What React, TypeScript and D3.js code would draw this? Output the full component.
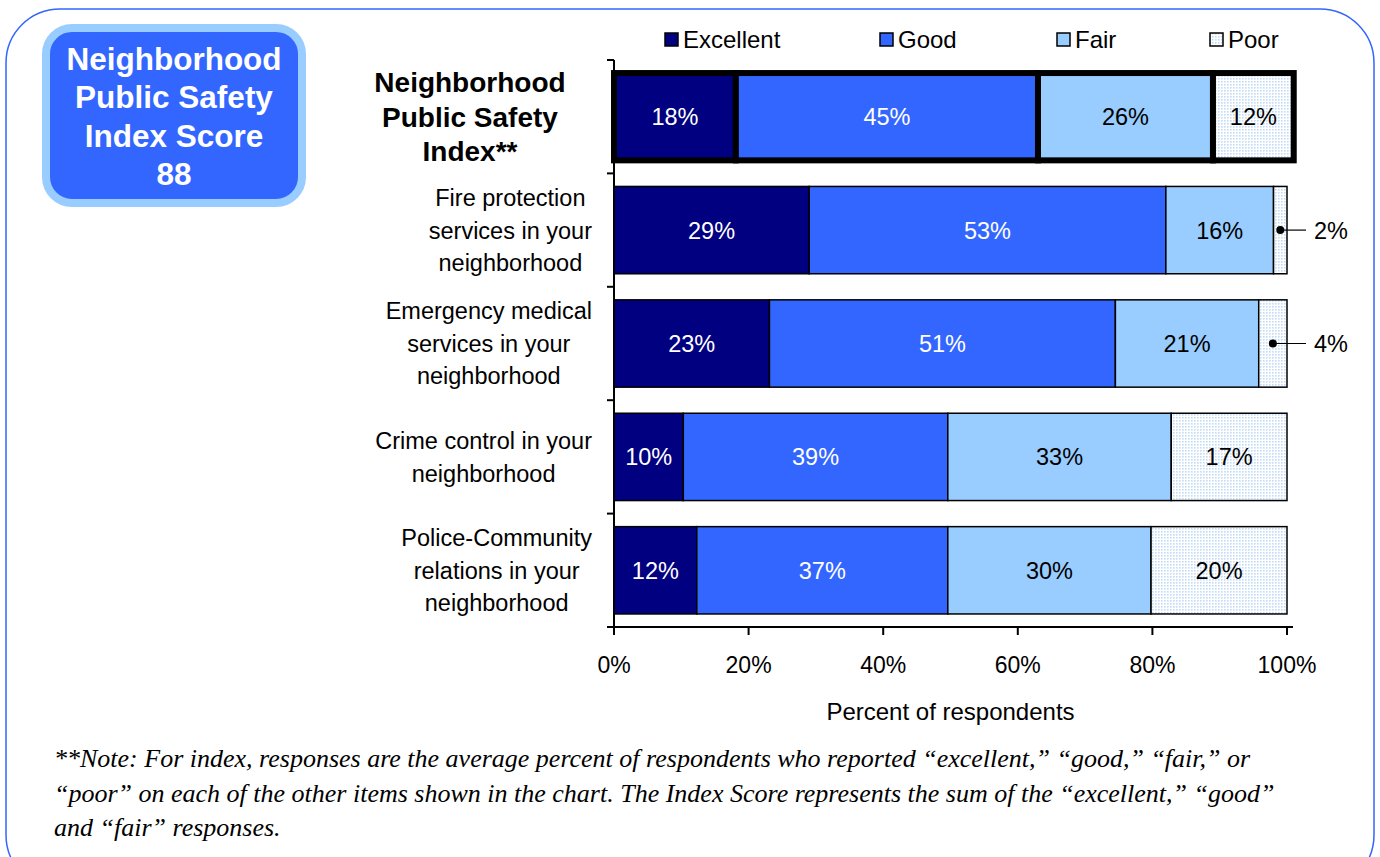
import React from "react";
import * as d3 from "d3";

const categories = [
  "Neighborhood Public Safety Index**",
  "Fire protection services in your neighborhood",
  "Emergency medical services in your neighborhood",
  "Crime control in your neighborhood",
  "Police-Community relations in your neighborhood",
];
const categoryLines = [
  ["Neighborhood", "Public Safety", "Index**"],
  ["Fire protection", "services in your", "neighborhood"],
  ["Emergency medical", "services in your", "neighborhood"],
  ["Crime control in your", "neighborhood"],
  ["Police-Community", "relations in your", "neighborhood"],
];
const seriesNames = ["Excellent", "Good", "Fair", "Poor"];
const excellent = [18.1, 29, 23.1, 10.3, 12.3];
const good = [44.9, 53, 51.4, 39.3, 37.3];
const fair = [26, 16, 21.3, 33.2, 30.2];
const poor = [12, 2, 4.2, 17.2, 20.2];
const labelsExcellent = ["18%", "29%", "23%", "10%", "12%"];
const labelsGood = ["45%", "53%", "51%", "39%", "37%"];
const labelsFair = ["26%", "16%", "21%", "33%", "30%"];
const labelsPoor = ["12%", "2%", "4%", "17%", "20%"];
const xTicks = [0, 20, 40, 60, 80, 100];
const indexBoxLines = ["Neighborhood", "Public Safety", "Index Score", "88"];
const noteLines = [
  "**Note: For index, responses are the average percent of respondents who reported \u201cexcellent,\u201d \u201cgood,\u201d \u201cfair,\u201d or",
  "\u201cpoor\u201d on each of the other items shown in the chart. The Index Score represents the sum of the \u201cexcellent,\u201d \u201cgood\u201d",
  "and \u201cfair\u201d responses.",
];

const colors = ["#000080", "#3366FF", "#99CCFF", "url(#poorDots)"];
const labelColors = ["#ffffff", "#ffffff", "#000000", "#000000"];
const FONT = "'Liberation Sans', Arial, sans-serif";
const NOTE_FONT = "'Liberation Serif', 'Times New Roman', serif";

let measureCtx: CanvasRenderingContext2D | null = null;
function textWidth(s: string, font: string) {
  if (!measureCtx) {
    const c = document.createElement("canvas");
    measureCtx = c.getContext("2d");
  }
  if (!measureCtx) return s.length * 11;
  measureCtx.font = font;
  return measureCtx.measureText(s).width;
}

export default function App() {
  const W = 1380;
  const H = 857;
  const x = d3.scaleLinear().domain([0, 100]).range([614, 1287]);
  const y = d3
    .scaleBand<string>()
    .domain(categories)
    .range([60, 627])
    .paddingInner(0.23)
    .paddingOuter(0.115);

  const values = [excellent, good, fair, poor];
  const labels = [labelsExcellent, labelsGood, labelsFair, labelsPoor];
  const stacked = d3
    .stack<number, string>()
    .keys(seriesNames)
    .value((i, key) => values[seriesNames.indexOf(key)][i])(
    d3.range(categories.length)
  );

  const legendX = [665, 880, 1057, 1210];
  const step = y.step();
  const boundaries = d3.range(categories.length + 1).map((i) => 60 + i * step);

  const w100 = textWidth(noteLines[0], `italic 100px ${NOTE_FONT}`);
  const noteSize = Math.min(26, Math.max(18, (1208 / (w100 || 5000)) * 100));

  return (
    <svg width={W} height={H} style={{ display: "block", position: "absolute", left: 0, top: 0 }}>
      <defs>
        <pattern id="poorDots" width="3" height="3" patternUnits="userSpaceOnUse">
          <rect width="3" height="3" fill="#ffffff" />
          <rect width="1.6" height="1.6" fill="#c2dbf7" />
        </pattern>
      </defs>
      <rect x={0} y={0} width={W} height={H} fill="#ffffff" />
      {/* outer frame */}
      <rect x={6} y={9} width={1368} height={880} rx={54} ry={54} fill="none" stroke="#3366FF" strokeWidth={1.5} />

      {/* index score box */}
      <rect x={46} y={28} width={256} height={175} rx={26} ry={26} fill="#3366FF" stroke="#99CCFF" strokeWidth={8} />
      {indexBoxLines.map((t, i) => (
        <text key={i} x={174} y={70 + i * 38.3} textAnchor="middle" fill="#ffffff" fontFamily={FONT} fontWeight="bold" fontSize={31.5}>
          {t}
        </text>
      ))}

      {/* legend */}
      {seriesNames.map((s, i) => (
        <g key={s}>
          <rect x={legendX[i]} y={33} width={13} height={13} fill={colors[i]} stroke="#000" strokeWidth={1.5} />
          <text x={legendX[i] + 18} y={48} fontFamily={FONT} fontSize={24} fill="#000">
            {s}
          </text>
        </g>
      ))}

      {/* bars */}
      {stacked.map((layer, si) => (
        <g key={layer.key}>
          {layer.map((d, ci) => {
            const yy = y(categories[ci])!;
            const bw = y.bandwidth();
            const isIndex = ci === 0;
            return (
              <rect
                key={ci}
                x={x(d[0])}
                y={yy}
                width={x(d[1]) - x(d[0])}
                height={bw}
                fill={colors[si]}
                stroke="#000"
                strokeWidth={isIndex ? 6 : 1.5}
              />
            );
          })}
        </g>
      ))}
      {/* bar labels */}
      {stacked.map((layer, si) => (
        <g key={"l" + layer.key}>
          {layer.map((d, ci) => {
            const v = d[1] - d[0];
            const cy = y(categories[ci])! + y.bandwidth() / 2;
            if (v < 5) {
              const cx = (x(d[0]) + x(d[1])) / 2;
              return (
                <g key={ci}>
                  <circle cx={cx} cy={cy} r={4} fill="#000" />
                  <line x1={cx} y1={cy} x2={x(100) + 19} y2={cy} stroke="#000" strokeWidth={1.2} />
                  <text x={x(100) + 27} y={cy + 8.5} fontFamily={FONT} fontSize={23.5} fill="#000">
                    {labels[si][ci]}
                  </text>
                </g>
              );
            }
            return (
              <text
                key={ci}
                x={(x(d[0]) + x(d[1])) / 2}
                y={cy + 8.5}
                textAnchor="middle"
                fontFamily={FONT}
                fontSize={23.5}
                fill={labelColors[si]}
              >
                {labels[si][ci]}
              </text>
            );
          })}
        </g>
      ))}

      {/* y axis */}
      <line x1={614} y1={60} x2={614} y2={627} stroke="#000" strokeWidth={2} />
      {boundaries.map((b, i) => (
        <line key={i} x1={607} y1={b} x2={614} y2={b} stroke="#000" strokeWidth={2} />
      ))}
      {/* x axis */}
      <line x1={607} y1={627} x2={1293} y2={627} stroke="#000" strokeWidth={2} />
      {xTicks.map((t) => (
        <g key={t}>
          <line x1={x(t)} y1={627} x2={x(t)} y2={635} stroke="#000" strokeWidth={2} />
          <text x={x(t)} y={673} textAnchor="middle" fontFamily={FONT} fontSize={23} fill="#000">
            {t + "%"}
          </text>
        </g>
      ))}
      <text x={(x(0) + x(100)) / 2} y={720} textAnchor="middle" fontFamily={FONT} fontSize={24} fill="#000">
        Percent of respondents
      </text>

      {/* category labels */}
      {categoryLines.map((lines, ci) => {
        const cy = y(categories[ci])! + y.bandwidth() / 2;
        const isIndex = ci === 0;
        const fs = isIndex ? 28 : 23.5;
        const lh = isIndex ? 34.5 : 32.5;
        const font = `${isIndex ? "bold " : ""}${fs}px ${FONT}`;
        const maxW = d3.max(lines, (l) => textWidth(l, font)) || 0;
        const cx = isIndex ? 470 : 592 - maxW / 2;
        const top = cy - ((lines.length - 1) * lh) / 2;
        return (
          <g key={ci}>
            {lines.map((l, li) => (
              <text
                key={li}
                x={cx}
                y={top + li * lh + fs * 0.36}
                textAnchor="middle"
                fontFamily={FONT}
                fontWeight={isIndex ? "bold" : "normal"}
                fontSize={fs}
                fill="#000"
              >
                {l}
              </text>
            ))}
          </g>
        );
      })}

      {/* note */}
      {noteLines.map((l, i) => (
        <text key={i} x={54} y={767 + i * 34.5} fontFamily={NOTE_FONT} fontStyle="italic" fontSize={noteSize} fill="#000">
          {l}
        </text>
      ))}
    </svg>
  );
}
